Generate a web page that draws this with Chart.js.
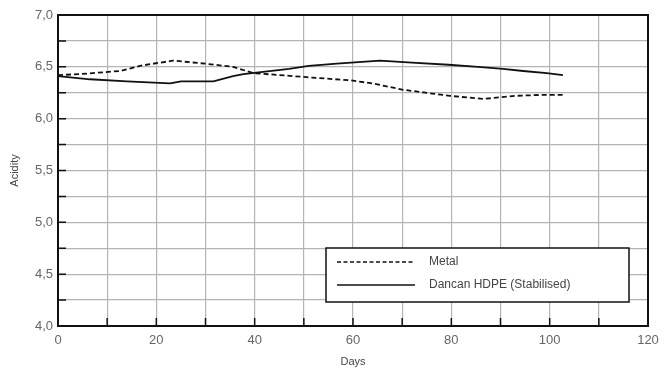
<!DOCTYPE html>
<html>
<head>
<meta charset="utf-8">
<script src="https://cdn.jsdelivr.net/npm/chart.js@4.4.1/dist/chart.umd.min.js"></script>
<style>
  html, body { margin: 0; padding: 0; background: #fff; }
  #wrap { width: 666px; height: 369px; position: relative; }
</style>
</head>
<body>
<div id="wrap"><canvas id="acidityChart"></canvas></div>
<script>
// Acidity over time
const metalDays  = [0, 4.5, 12.6, 16.7, 23.4, 30, 35.6, 39.7, 50.6, 59.4, 64, 70, 79.7, 86.5, 93, 98.6, 102.7];
const metalVals  = [6.42, 6.43, 6.46, 6.51, 6.56, 6.53, 6.50, 6.44, 6.40, 6.37, 6.34, 6.28, 6.22, 6.19, 6.22, 6.23, 6.23];
const hdpeDays   = [0, 6.5, 14, 22.8, 25, 31.6, 35.6, 37.7, 47, 51, 56.7, 65.5, 72, 79.4, 85.4, 90.5, 94.6, 99.4, 102.7];
const hdpeVals   = [6.41, 6.38, 6.36, 6.34, 6.36, 6.36, 6.41, 6.43, 6.48, 6.51, 6.53, 6.56, 6.54, 6.52, 6.50, 6.48, 6.46, 6.44, 6.42];
const seriesNames = ['Metal', 'Dancan HDPE (Stabilised)'];

const toPoints = (xs, ys) => xs.map((x, i) => ({ x: x, y: ys[i] }));

// box, inward ticks and the boxed legend
const framePlugin = {
    id: 'frame',
    afterDraw(chart) {
        const { ctx, chartArea: a, scales } = chart;
        ctx.save();
        ctx.strokeStyle = '#111';
        ctx.lineWidth = 2;
        ctx.strokeRect(a.left, a.top, a.right - a.left, a.bottom - a.top);

        // inward tick marks
        ctx.lineWidth = 1.5;
        ctx.beginPath();
        for (let v = 10; v < 120; v += 10) {
            const px = scales.x.getPixelForValue(v);
            ctx.moveTo(px, a.bottom);
            ctx.lineTo(px, a.bottom - 8);
        }
        for (let v = 4.25; v < 7; v += 0.25) {
            const py = scales.y.getPixelForValue(v);
            ctx.moveTo(a.left, py);
            ctx.lineTo(a.left + 8, py);
        }
        ctx.stroke();

        // legend box
        const bx = 326, by = 248, bw = 303, bh = 54;
        ctx.fillStyle = '#fff';
        ctx.fillRect(bx, by, bw, bh);
        ctx.lineWidth = 1.5;
        ctx.strokeStyle = '#111';
        ctx.strokeRect(bx, by, bw, bh);

        ctx.lineWidth = 1.5;
        ctx.setLineDash([4, 2.5]);
        ctx.beginPath();
        ctx.moveTo(337, 262); ctx.lineTo(415, 262);
        ctx.stroke();
        ctx.setLineDash([]);
        ctx.beginPath();
        ctx.moveTo(337, 285); ctx.lineTo(415, 285);
        ctx.stroke();

        ctx.fillStyle = '#444';
        ctx.font = '12px "Liberation Sans", Arial, sans-serif';
        ctx.textBaseline = 'middle';
        ctx.fillText(seriesNames[0], 429, 262);
        ctx.fillText(seriesNames[1], 429, 285);
        ctx.restore();
    }
};

const ctx = document.getElementById('acidityChart').getContext('2d');
new Chart(ctx, {
    type: 'line',
    data: {
        datasets: [
            {
                label: seriesNames[0],
                data: toPoints(metalDays, metalVals),
                borderColor: '#111',
                borderWidth: 1.8,
                borderDash: [5, 3],
                pointRadius: 0,
                tension: 0,
                fill: false
            },
            {
                label: seriesNames[1],
                data: toPoints(hdpeDays, hdpeVals),
                borderColor: '#111',
                borderWidth: 1.8,
                pointRadius: 0,
                tension: 0,
                fill: false
            }
        ]
    },
    options: {
        responsive: true,
        maintainAspectRatio: false,
        animation: false,
        layout: { padding: { top: 15, right: 18, left: 0, bottom: 0 } },
        plugins: {
            legend: { display: false },
            tooltip: { enabled: false }
        },
        scales: {
            x: {
                type: 'linear',
                min: 0,
                max: 120,
                afterFit: (s) => { s.height = 43; },
                grid: { color: '#b4b4b4', lineWidth: 1.2, drawTicks: false },
                border: { display: false },
                ticks: {
                    stepSize: 10,
                    autoSkip: false,
                    padding: 7,
                    color: '#666',
                    font: { family: '"Liberation Sans", Arial, sans-serif', size: 13 },
                    callback: (v) => (v % 20 === 0 ? String(v) : '')
                },
                title: {
                    display: true,
                    text: 'Days',
                    color: '#444',
                    padding: { top: 2, bottom: 0 },
                    font: { family: '"Liberation Sans", Arial, sans-serif', size: 11 }
                }
            },
            y: {
                min: 4,
                max: 7,
                afterFit: (s) => { s.width = 58; },
                grid: { color: '#b4b4b4', lineWidth: 1.2, drawTicks: false },
                border: { display: false },
                ticks: {
                    stepSize: 0.25,
                    autoSkip: false,
                    padding: 5,
                    color: '#666',
                    font: { family: '"Liberation Sans", Arial, sans-serif', size: 13 },
                    callback: (v) => (Math.abs(v * 2 - Math.round(v * 2)) < 1e-6 ? v.toFixed(1).replace('.', ',') : '')
                },
                title: {
                    display: true,
                    text: 'Acidity',
                    color: '#444',
                    padding: { top: 8, bottom: 2 },
                    font: { family: '"Liberation Sans", Arial, sans-serif', size: 11 }
                }
            }
        }
    },
    plugins: [framePlugin]
});
</script>
</body>
</html>
